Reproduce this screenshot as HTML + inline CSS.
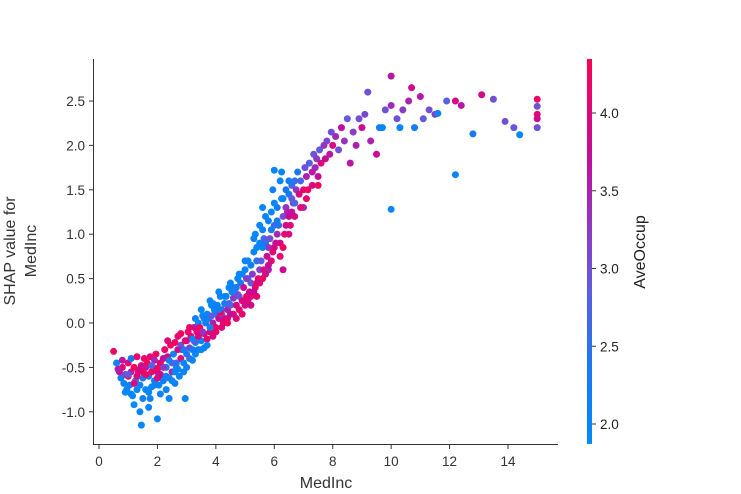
<!DOCTYPE html>
<html><head><meta charset="utf-8"><style>
body{margin:0;background:#fff;}
svg{display:block;font-family:"Liberation Sans","DejaVu Sans",sans-serif;}
</style></head><body>
<svg id="chart" width="741" height="494">
<defs><linearGradient id="cg" x1="0" y1="1" x2="0" y2="0">
<stop offset="0" stop-color="#008bfb"/><stop offset="0.2" stop-color="#1a78f3"/><stop offset="0.4" stop-color="#5f5de0"/><stop offset="0.6" stop-color="#9a2fbb"/><stop offset="0.75" stop-color="#c50c9a"/><stop offset="1" stop-color="#ff0052"/></linearGradient></defs>
<g id="points"></g>
<g id="axes"></g>
</svg>
<script>
const medInc=[0.5,0.6,0.7,0.75,0.8,0.85,0.9,0.95,1.0,0.65,
1.0,1.05,1.1,1.15,1.2,1.25,1.3,1.1,1.2,1.3,
1.35,1.4,1.45,1.5,1.55,1.6,1.4,1.5,1.45,1.6,
1.65,1.7,1.75,1.8,1.85,1.9,1.7,1.8,1.9,1.75,
1.95,2.0,2.05,2.1,2.15,2.2,2.0,2.1,2.05,2.2,
2.25,2.3,2.35,2.4,2.45,2.5,2.3,2.4,2.5,2.35,
2.55,2.6,2.65,2.7,2.75,2.8,2.6,2.7,2.8,2.65,
2.85,2.9,2.95,3.0,3.05,3.1,2.9,3.0,3.1,2.95,
3.15,3.2,3.25,3.3,3.35,3.4,3.2,3.3,3.4,3.25,
3.45,3.5,3.55,3.6,3.65,3.7,3.5,3.6,3.7,3.55,
3.75,3.8,3.85,3.9,3.95,4.0,3.8,3.9,4.0,3.85,
4.05,4.1,4.15,4.2,4.25,4.3,4.1,4.2,4.3,4.15,
4.35,4.4,4.45,4.5,4.55,4.6,4.4,4.5,4.6,4.45,
4.65,4.7,4.75,4.8,4.85,4.9,4.7,4.8,4.9,4.75,
4.95,5.0,5.05,5.1,5.15,5.2,5.0,5.1,5.2,5.05,
5.25,5.3,5.35,5.4,5.45,5.5,5.3,5.4,5.5,5.35,
5.55,5.6,5.65,5.7,5.75,5.8,5.6,5.7,5.8,5.65,
5.85,5.9,5.95,6.0,6.05,6.1,5.9,6.0,6.1,5.95,
6.15,6.2,6.25,6.3,6.35,6.4,6.2,6.3,6.4,6.25,
6.45,6.5,6.55,6.6,6.65,6.7,6.5,6.6,6.75,6.8,
6.85,6.9,7.0,7.05,7.1,7.15,7.2,7.3,7.35,7.4,
7.45,7.5,7.55,7.6,7.7,7.75,7.8,7.9,7.95,8.0,
8.1,8.2,8.3,8.4,8.5,8.6,8.7,8.8,8.9,9.0,
9.1,9.2,9.3,9.5,9.7,9.8,10.0,10.0,10.2,10.4,
10.6,10.7,10.8,11.0,11.1,11.3,11.5,11.9,12.2,12.4,
10.0,12.2,12.8,13.1,13.5,13.9,14.2,14.4,15.0,15.0,
15.0,15.0,15.0,9.6,10.3,11.6,6.0,5.8,6.3,7.0,
0.8,1.0,1.2,1.4,1.6,1.8,2.0,2.2,2.4,2.6,
0.9,1.1,1.3,1.5,1.7,1.9,2.1,2.3,2.5,2.7,
2.8,2.9,3.0,3.1,3.2,3.3,3.4,3.5,3.6,3.7,
3.8,3.9,4.0,4.1,4.2,4.3,4.4,4.5,4.6,4.7,
4.8,4.9,5.0,5.1,5.2,5.3,5.4,5.5,5.6,5.7,
5.8,5.9,6.0,6.1,6.2,6.3,6.4,6.5,6.6,6.7,
6.5,6.7,6.9,7.1,7.3,7.5,5.5,5.6,5.4,5.2];
const shapValues=[-0.32,-0.45,-0.55,-0.62,-0.5,-0.68,-0.58,-0.75,-0.6,-0.52,
-0.45,-0.7,-0.55,-0.82,-0.5,-0.65,-0.6,-0.4,-0.92,-0.38,
-0.55,-0.7,-0.48,-0.62,-0.4,-0.75,-1.0,-0.85,-1.15,-0.5,
-0.45,-0.6,-0.38,-0.72,-0.5,-0.65,-0.95,-0.55,-0.42,-0.85,
-0.35,-0.55,-0.7,-0.45,-0.6,-0.4,-1.08,-0.8,-0.5,-0.65,
-0.3,-0.5,-0.38,-0.62,-0.25,-0.45,-0.75,-0.85,-0.55,-0.2,
-0.35,-0.22,-0.5,-0.3,-0.6,-0.4,-0.68,-0.15,-0.25,-0.45,
-0.3,-0.45,-0.2,-0.35,-0.1,-0.28,-0.55,-0.5,-0.4,-0.85,
-0.15,-0.3,-0.05,-0.22,-0.1,-0.3,-0.42,0.05,0.0,-0.2,
-0.05,-0.2,0.08,-0.12,0.0,-0.18,0.15,-0.28,0.1,-0.1,
0.05,-0.1,0.2,0.0,0.15,-0.05,0.25,-0.15,0.1,0.08,
0.2,0.05,0.3,0.1,0.0,0.22,0.35,0.15,0.05,0.12,
0.3,0.15,0.4,0.2,0.35,0.1,0.05,0.45,0.28,0.22,
0.35,0.2,0.5,0.3,0.45,0.25,0.4,0.15,0.55,0.32,
0.4,0.6,0.3,0.5,0.35,0.45,0.7,0.25,0.65,0.5,
0.55,0.8,0.4,0.7,0.5,0.9,0.95,0.45,0.6,1.0,
0.7,1.05,0.6,0.9,0.75,1.15,0.5,1.2,0.85,0.95,
0.95,1.25,0.8,1.1,0.9,1.3,0.7,1.35,1.0,1.5,
1.1,0.9,1.4,1.2,1.0,1.5,1.6,0.85,1.3,1.7,
1.25,1.45,1.1,1.55,1.35,1.6,1.2,1.4,1.5,1.7,
1.45,1.6,1.5,1.75,1.65,1.5,1.8,1.7,1.9,1.75,
1.85,1.65,1.95,1.8,2.0,1.85,2.05,1.9,2.15,2.0,
2.1,1.95,2.2,2.05,2.3,1.8,2.15,2.0,2.3,2.2,
2.35,2.6,2.05,1.9,2.2,2.4,2.45,2.78,2.3,2.4,
2.5,2.65,2.2,2.55,2.3,2.4,2.35,2.5,2.5,2.45,
1.28,1.67,2.13,2.57,2.52,2.27,2.2,2.12,2.52,2.2,
2.44,2.3,2.35,2.2,2.2,2.36,1.72,0.6,0.6,1.3,
-0.42,-0.58,-0.68,-0.52,-0.58,-0.48,-0.62,-0.5,-0.42,-0.55,
-0.78,-0.8,-0.75,-0.55,-0.78,-0.7,-0.58,-0.6,-0.65,-0.52,
-0.12,-0.3,-0.2,-0.05,-0.18,-0.35,-0.15,-0.3,0.05,-0.25,
-0.05,0.22,-0.1,0.15,-0.05,0.3,0.0,0.1,0.4,0.05,
0.55,0.1,0.2,0.7,0.3,0.35,0.85,0.45,0.85,0.55,
0.65,1.05,0.85,1.15,0.75,1.4,1.1,1.0,1.25,1.35,
1.6,1.2,1.3,1.4,1.55,1.55,1.1,1.3,0.3,0.2];
const aveOccup=[4.2,2.0,3.8,2.2,4.1,2.1,3.0,2.0,4.2,3.5,
4.0,2.1,3.5,2.0,4.3,2.6,3.9,2.3,1.9,4.1,
4.2,2.0,3.9,2.4,4.1,2.0,2.0,2.1,2.0,3.6,
4.3,2.2,4.0,2.0,3.8,2.3,2.0,4.2,3.4,2.1,
4.2,3.9,2.0,4.1,2.4,3.7,2.0,2.1,4.3,2.2,
4.1,2.3,3.9,2.0,4.2,2.8,2.0,2.0,3.5,4.0,
2.1,4.2,2.0,3.8,2.0,4.1,2.2,4.0,3.0,2.5,
3.9,2.0,4.1,2.3,4.2,3.2,2.0,2.1,2.6,2.0,
4.0,2.2,3.7,2.0,4.1,2.3,2.0,2.1,2.0,3.0,
4.2,2.1,2.0,3.9,2.2,4.1,2.0,2.3,2.0,3.3,
2.0,4.0,2.0,3.5,2.1,4.2,2.0,3.9,2.3,2.8,
2.1,3.8,2.0,3.0,4.1,2.2,2.0,2.5,3.9,4.2,
2.2,3.5,2.0,2.8,2.3,4.1,4.0,2.0,3.2,2.6,
2.1,3.9,2.0,2.6,2.2,4.0,2.4,4.1,2.0,3.0,
3.8,2.0,4.1,2.4,3.7,2.9,2.0,4.0,2.1,3.2,
3.2,2.1,4.0,2.5,3.9,2.0,2.0,4.2,3.1,2.0,
2.8,2.0,4.0,2.4,3.8,2.1,4.2,2.0,3.3,2.7,
3.0,2.0,4.1,2.6,3.7,2.2,4.0,2.0,3.4,2.1,
2.5,3.9,2.0,3.0,4.1,2.3,2.0,4.2,3.3,2.0,
3.5,2.3,4.0,2.6,3.1,2.5,3.8,2.9,3.3,2.4,
3.9,2.7,4.1,3.0,3.5,4.2,2.8,3.6,3.0,3.4,
3.2,3.7,2.9,4.0,3.3,3.8,3.1,3.6,3.0,3.9,
3.4,3.0,3.7,3.3,2.9,3.6,3.2,3.5,3.0,3.8,
3.1,3.0,3.5,3.8,2.0,3.0,3.4,3.6,3.0,3.2,
3.5,3.8,2.2,3.6,2.9,3.0,3.2,2.8,3.9,3.6,
2.0,2.0,2.3,3.9,3.0,3.0,2.9,2.0,4.1,3.0,
3.0,3.8,4.0,2.1,2.0,2.1,2.0,3.5,3.8,3.4,
3.6,2.9,4.0,3.8,4.2,2.7,4.0,3.3,2.2,2.0,
2.0,2.0,2.0,4.1,2.0,2.0,3.8,2.1,2.0,2.0,
4.2,2.2,4.0,4.1,2.0,2.0,3.9,2.0,2.2,2.1,
2.1,2.0,4.1,2.2,4.0,2.0,4.2,3.7,2.1,4.0,
2.0,4.1,3.9,2.0,4.0,3.8,2.0,4.0,2.1,3.9,
3.8,2.2,3.9,2.3,4.1,2.0,3.9,4.0,3.7,2.7,
2.2,3.9,4.0,4.1,3.9,4.2,2.0,2.0,4.1,3.8];
const xTicks=[0,2,4,6,8,10,12,14];
const yTicks=[-1.0,-0.5,0.0,0.5,1.0,1.5,2.0,2.5];
const cTicks=[2.0,2.5,3.0,3.5,4.0];

const NS="http://www.w3.org/2000/svg";
const X=v=>99+v*(508-99)/14;
const Y=v=>323-v*(323-101)/2.5;
const CY=v=>424-(v-2.0)*(424-113)/2.0;
const stops=[[0,[0,139,251]],[0.2,[26,120,243]],[0.4,[95,93,224]],[0.6,[154,47,187]],[0.75,[197,12,154]],[1,[255,0,82]]];
function col(v){let t=(v-1.87)/(4.34-1.87);t=Math.max(0,Math.min(1,t));
for(let i=1;i<stops.length;i++){if(t<=stops[i][0]){const a=stops[i-1],b=stops[i];const f=(t-a[0])/(b[0]-a[0]);
return 'rgb('+a[1].map((c,k)=>Math.round(c+(b[1][k]-c)*f)).join(',')+')';}}return 'rgb(255,0,82)';}
function mk(tag,attrs,parent){const e=document.createElementNS(NS,tag);for(const k in attrs)e.setAttribute(k,attrs[k]);parent.appendChild(e);return e;}
const pg=document.getElementById('points');
medInc.forEach((_,i)=>{
 const c=mk('circle',{cx:X(medInc[i]),cy:Y(shapValues[i]),r:3.5,fill:col(aveOccup[i])},pg);
 
 
});
const ax=document.getElementById('axes');
let l=mk('line',{x1:93.5,y1:59,x2:93.5,y2:444.5,stroke:'#333','stroke-width':1},ax);


l=mk('line',{x1:93,y1:444.5,x2:558,y2:444.5,stroke:'#333','stroke-width':1},ax);


xTicks.forEach(v=>{const x=X(v);
 mk('line',{x1:x,y1:444.5,x2:x,y2:449,stroke:'#333'},ax);
 const t=mk('text',{x:x,y:466,'text-anchor':'middle','font-size':13.5,fill:'#333'},ax);t.textContent=v;
 
 });
yTicks.forEach(v=>{const y=Y(v);
 mk('line',{x1:89,y1:y,x2:93.5,y2:y,stroke:'#333'},ax);
 const t=mk('text',{x:85,y:y+5,'text-anchor':'end','font-size':13.5,fill:'#333'},ax);t.textContent=v.toFixed(1);
 
 });
let cb=mk('rect',{x:587,y:59,width:5,height:385,fill:'url(#cg)'},ax);


cTicks.forEach(v=>{const y=CY(v);
 mk('line',{x1:592,y1:y,x2:596,y2:y,stroke:'#333'},ax);
 const t=mk('text',{x:600,y:y+5,'font-size':13.5,fill:'#222'},ax);t.textContent=v.toFixed(1);
 
 });
let t=mk('text',{x:326,y:488,'text-anchor':'middle','font-size':16,fill:'#333'},ax);t.textContent='MedInc';


t=mk('text',{x:0,y:0,'text-anchor':'middle','font-size':16,fill:'#333',transform:'translate(15,251) rotate(-90)'},ax);t.textContent='SHAP value for';


t=mk('text',{x:0,y:0,'text-anchor':'middle','font-size':16,fill:'#333',transform:'translate(36,251) rotate(-90)'},ax);t.textContent='MedInc';


t=mk('text',{x:0,y:0,'text-anchor':'middle','font-size':16,fill:'#222',transform:'translate(645,252) rotate(-90)'},ax);t.textContent='AveOccup';


</script>
</body></html>
